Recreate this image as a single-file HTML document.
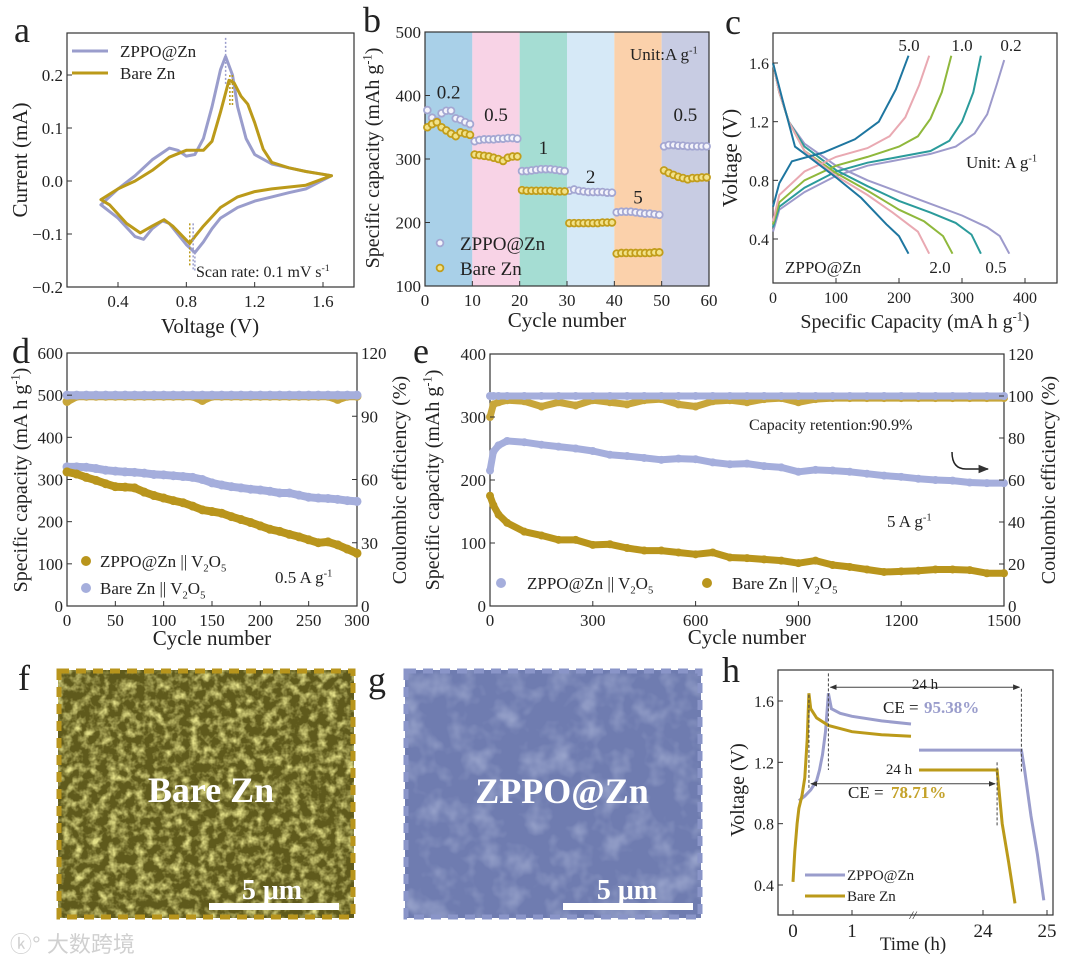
<!DOCTYPE html>
<html><head><meta charset="utf-8">
<style>
html,body{margin:0;padding:0;background:#fff;}
svg{display:block;font-family:"Liberation Serif","Noto Serif CJK SC",serif;}
</style></head>
<body>
<svg id="fig" width="1080" height="964" viewBox="0 0 1080 964" xmlns="http://www.w3.org/2000/svg">
<defs>
<filter id="semF" x="0" y="0" width="100%" height="100%">
<feTurbulence type="fractalNoise" baseFrequency="0.11" numOctaves="3" seed="4"/>
<feColorMatrix type="matrix" values="0 0 0 0 0.78  0 0 0 0 0.75  0 0 0 0 0.25  0 0 0 2.4 -1.0"/>
</filter>
<filter id="semG" x="0" y="0" width="100%" height="100%">
<feTurbulence type="fractalNoise" baseFrequency="0.04" numOctaves="3" seed="9"/>
<feColorMatrix type="matrix" values="0 0 0 0 0.62  0 0 0 0 0.68  0 0 0 0 0.86  0 0 0 1.0 -0.45"/>
</filter>
<marker id="arr" viewBox="0 0 10 10" refX="9" refY="5" markerWidth="7" markerHeight="7" orient="auto-start-reverse"><path d="M0,1 L10,5 L0,9 z" fill="#333"/></marker>
</defs>
</svg>
<script>
// ---------- Panel a: CV data ----------
const cvZppoV = [0.3,0.4,0.5,0.6,0.7,0.75,0.8,0.85,0.9,0.95,1.0,1.03,1.07,1.1,1.15,1.2,1.3,1.4,1.5,1.65,1.5,1.4,1.3,1.2,1.1,1.0,0.95,0.9,0.85,0.8,0.75,0.7,0.66,0.6,0.55,0.5,0.4,0.3];
const cvZppoI = [-0.045,-0.015,0.01,0.04,0.062,0.058,0.047,0.05,0.08,0.14,0.21,0.235,0.2,0.14,0.08,0.05,0.032,0.025,0.018,0.01,-0.015,-0.022,-0.03,-0.038,-0.05,-0.07,-0.09,-0.115,-0.135,-0.12,-0.1,-0.08,-0.075,-0.09,-0.11,-0.105,-0.07,-0.045];
const cvBareV = [0.3,0.4,0.5,0.6,0.7,0.8,0.9,0.95,1.0,1.05,1.08,1.12,1.16,1.2,1.25,1.3,1.4,1.5,1.65,1.5,1.3,1.2,1.1,1.0,0.9,0.85,0.82,0.78,0.72,0.67,0.6,0.53,0.45,0.35,0.3];
const cvBareI = [-0.035,-0.015,0.0,0.02,0.045,0.058,0.058,0.075,0.13,0.19,0.185,0.16,0.145,0.11,0.06,0.035,0.025,0.018,0.01,-0.008,-0.015,-0.02,-0.03,-0.05,-0.085,-0.105,-0.118,-0.105,-0.085,-0.073,-0.085,-0.098,-0.08,-0.045,-0.035];
const aXTicks = [0.4,0.8,1.2,1.6];
const aYTicks = [-0.2,-0.1,0.0,0.1,0.2];
// ---------- Panel b: rate ----------
const rateCycles = Array.from({length:60},(_,i)=>i+1);
const rateZppo = [377,365,360,372,376,376,364,362,358,355, 328,330,331,331,331,332,332,333,333,332, 281,281,282,283,284,284,284,283,282,281, 250,252,250,249,248,248,248,248,247,247, 216,217,217,217,216,215,214,214,213,212, 320,322,322,321,321,320,320,320,320,320];
const rateBare = [350,355,358,350,345,340,336,342,340,338, 307,306,305,304,302,300,297,302,304,304, 251,250,250,250,250,250,250,249,249,249, 199,199,199,199,199,199,199,200,200,200, 151,152,152,152,152,152,152,152,153,153, 282,278,275,272,270,268,270,270,271,271];
const rateLabels = ["0.2","0.5","1","2","5","0.5"];
const bXTicks = [0,10,20,30,40,50,60];
const bYTicks = [100,200,300,400,500];
// ---------- Panel c: GCD ----------
const gcdRates = ["0.2","0.5","1.0","2.0","5.0"];
const gcdDisCap = [[0,10,25,50,100,150,200,250,300,340,360,375],[0,10,25,50,100,150,200,250,290,315,330],[0,10,25,50,100,150,200,240,270,285],[0,10,25,50,100,150,190,230,248],[0,15,35,60,100,140,180,200,215]];
const gcdDisV = [[1.6,1.4,1.2,1.05,0.9,0.8,0.72,0.64,0.56,0.48,0.42,0.3],[1.6,1.4,1.2,1.03,0.87,0.76,0.66,0.58,0.51,0.43,0.3],[1.6,1.4,1.2,1.0,0.85,0.73,0.6,0.52,0.42,0.3],[1.6,1.4,1.2,1.0,0.83,0.7,0.58,0.45,0.3],[1.6,1.35,1.03,0.95,0.82,0.68,0.5,0.42,0.3]];
const gcdChCap = [[0,10,50,100,150,200,250,290,320,340,355,367],[0,10,50,100,150,200,250,280,300,318,330],[0,10,50,100,150,200,230,250,268,283],[0,10,50,100,150,185,210,232,248],[0,10,30,80,130,168,195,215]];
const gcdChV = [[0.45,0.6,0.72,0.83,0.9,0.94,0.98,1.03,1.12,1.25,1.45,1.62],[0.48,0.62,0.75,0.86,0.92,0.96,1.0,1.07,1.2,1.4,1.65],[0.5,0.65,0.8,0.9,0.96,1.03,1.1,1.22,1.4,1.65],[0.52,0.7,0.86,0.96,1.02,1.1,1.23,1.45,1.65],[0.62,0.78,0.93,0.99,1.08,1.2,1.42,1.65]];
const cXTicks = [0,100,200,300,400];
const cYTicks = [0.4,0.8,1.2,1.6];
// ---------- Panel d ----------
const dCycles = [0,10,20,30,40,50,60,70,80,90,100,110,120,130,140,150,160,170,180,190,200,210,220,230,240,250,260,270,280,290,300];
const dCapGold = [318,313,305,298,290,283,282,280,270,262,256,250,245,237,228,224,220,212,205,198,190,182,177,170,164,157,150,152,145,135,125];
const dCapBlue = [330,330,329,326,322,320,318,317,315,312,311,309,307,305,300,292,287,283,280,277,275,272,268,268,263,258,256,255,253,250,248];
const dCEGold = [97,99.5,99.5,99.5,99.5,99.5,99.5,99.5,99.5,99.5,99.5,99.5,99.5,99.5,97.5,99.5,99.5,99.5,99.5,99.5,99.5,99.5,99.5,99.5,99.5,99.5,99.5,99.5,98,99.5,99.5];
const dCEBlue = [100,100,100,100,100,100,100,100,100,100,100,100,100,100,100,100,100,100,100,100,100,100,100,100,100,100,100,100,100,100,100];
const dXTicks = [0,50,100,150,200,250,300];
const dYTicks = [0,100,200,300,400,500,600];
const dRTicks = [0,30,60,90,120];
// ---------- Panel e ----------
const eCycles = [0,10,25,50,100,150,200,250,300,350,400,450,500,550,600,650,700,750,800,850,900,950,1000,1050,1100,1150,1200,1250,1300,1350,1400,1450,1500];
const eCapBlue = [215,245,255,262,260,256,253,250,246,240,238,235,232,234,233,228,225,226,222,220,213,216,215,213,210,207,205,202,200,199,196,195,195];
const eCapGold = [175,160,145,132,118,112,105,105,97,98,92,88,88,85,82,85,77,76,74,72,68,72,65,62,58,54,55,56,58,58,57,52,52];
const eCEGold = [90,96,97,98,97.5,95,97,95.5,98,97,96,98,98.5,96,95,97.5,98,97,98.5,99,97,98.5,99,99,99,99,99,99,99,99,99,99,99];
const eCEBlue = [100,100,100,100,100,100,100,100,100,100,100,100,100,100,100,100,100,100,100,100,100,100,100,100,100,100,100,100,100,100,100,100,100];
const eXTicks = [0,300,600,900,1200,1500];
const eYTicks = [0,100,200,300,400];
const eRTicks = [0,20,40,60,80,100,120];
// ---------- Panel h ----------
const hZppoT = [0.1,0.2,0.3,0.4,0.45,0.5,0.55,0.6,0.65,0.8,1.0,1.5,2.0];
const hZppoV = [0.95,0.98,1.02,1.08,1.15,1.25,1.4,1.65,1.55,1.52,1.5,1.47,1.45];
const hZppoT2 = [23.0,24.0,24.6,24.65,24.75,24.85,24.95];
const hZppoV2 = [1.28,1.28,1.28,1.15,0.85,0.6,0.3];
const hBareT = [0.0,0.03,0.07,0.1,0.15,0.2,0.24,0.27,0.3,0.4,0.6,1.0,1.5,2.0];
const hBareV = [0.42,0.62,0.8,0.9,0.98,1.1,1.35,1.65,1.55,1.49,1.44,1.4,1.38,1.37];
const hBareT2 = [23.0,24.0,24.22,24.3,24.4,24.5];
const hBareV2 = [1.15,1.15,1.15,0.8,0.55,0.28];
const hYTicks = [0.4,0.8,1.2,1.6];

// ---------- helpers ----------
const NS="http://www.w3.org/2000/svg";
const svg=document.getElementById('fig');
function mk(tag,attrs,parent){const e=document.createElementNS(NS,tag);for(const k in attrs)e.setAttribute(k,attrs[k]);(parent||svg).appendChild(e);return e;}
function txt(s,x,y,size,anchor,parent,extra){const e=mk('text',Object.assign({x:x,y:y,'font-size':size,'text-anchor':anchor||'start',fill:'#222'},extra||{}),parent);
 // supports ^{..} superscript and _{..} subscript
 const re=/(\^\{[^}]*\}|_\{[^}]*\})/; const parts=s.split(re); let shift=0;
 parts.forEach(p=>{if(!p)return; const ts=document.createElementNS(NS,'tspan');
  if(p.startsWith('^{')){ts.textContent=p.slice(2,-1);ts.setAttribute('font-size',size*0.62);ts.setAttribute('dy',(-size*0.38-shift));shift=-size*0.38;}
  else if(p.startsWith('_{')){ts.textContent=p.slice(2,-1);ts.setAttribute('font-size',size*0.62);ts.setAttribute('dy',(size*0.25-shift));shift=size*0.25;}
  else {ts.textContent=p;if(shift){ts.setAttribute('dy',-shift);shift=0;}}
  e.appendChild(ts);});
 return e;}
function lin(d0,d1,r0,r1){return v=>r0+(v-d0)/(d1-d0)*(r1-r0);}
function pathOf(xs,ys,sx,sy){return xs.map((v,i)=>(i?'L':'M')+sx(v).toFixed(1)+','+sy(ys[i]).toFixed(1)).join(' ');}
function frame(g,b){const r=mk('rect',{x:b.x,y:b.y,width:b.w,height:b.h,fill:'none',stroke:'#333','stroke-width':1.2},g);}
function xTicks(g,b,ticks,sx,fmt,size){ticks.forEach(t=>{const x=sx(t);const l=mk('line',{x1:x,x2:x,y1:b.y+b.h,y2:b.y+b.h-5,stroke:'#333','stroke-width':1},g);const tl=txt(fmt?fmt(t):String(t),x,b.y+b.h+20,size||17,'middle',g);});}
function yTicks(g,b,ticks,sy,fmt,side,size){ticks.forEach(t=>{const y=sy(t);const x0=side==='r'?b.x+b.w:b.x;const l=mk('line',{x1:x0,x2:side==='r'?x0-5:x0+5,y1:y,y2:y,stroke:'#333','stroke-width':1},g);const tl=txt(fmt?fmt(t):String(t),side==='r'?x0+4:x0-4,y+6,size||17,side==='r'?'start':'end',g);});}
function rotTitle(g,s,x,y,size){return txt(s,x,y,size||20,'middle',g,{transform:`rotate(-90 ${x} ${y})`});}
function letter(s,x,y){const e=txt(s,x,y,36,'start');}
const LAV='#9a9dcc', GOLD='#bb9a1a';
const f1=v=>v.toFixed(1);

// ================= Panel a =================
{
const g=mk('g',{});
const b={x:67,y:33,w:287,h:254};
const sx=lin(0.4,1.6,118,323), sy=lin(0.2,-0.2,75,287);
frame(g,b);
const p1=mk('path',{d:pathOf(cvZppoV,cvZppoI,sx,sy)+'Z',fill:'none',stroke:LAV,'stroke-width':3,'stroke-linejoin':'round'},g);

const p2=mk('path',{d:pathOf(cvBareV,cvBareI,sx,sy)+'Z',fill:'none',stroke:GOLD,'stroke-width':3,'stroke-linejoin':'round'},g);

[[1.03,0.27,0.18,LAV],[1.07,0.2,0.14,GOLD],[1.055,0.2,0.14,GOLD],[0.85,-0.135,-0.17,LAV],[0.84,-0.08,-0.17,LAV],[0.82,-0.08,-0.16,GOLD]].forEach(d=>{const l=mk('line',{x1:sx(d[0]),x2:sx(d[0]),y1:sy(d[1]),y2:sy(d[2]),stroke:d[3],'stroke-width':1.5,'stroke-dasharray':'2,2'},g);});
xTicks(g,b,aXTicks,sx,f1,17);yTicks(g,b,aYTicks,sy,v=>v===0?'0.0':(v<0?'\u2212'+f1(-v):f1(v)),'l',17);
const yt=rotTitle(g,'Current (mA)',27,160,21);
const xt=txt('Voltage (V)',210,333,21,'middle',g);
const l1=mk('line',{x1:72,x2:108,y1:51,y2:51,stroke:LAV,'stroke-width':3},g);
const t1=txt('ZPPO@Zn',120,57,17,'start',g);
const l2=mk('line',{x1:72,x2:108,y1:73,y2:73,stroke:GOLD,'stroke-width':3},g);
const t2=txt('Bare Zn',120,79,17,'start',g);
const sr=txt('Scan rate: 0.1 mV s^{-1}',196,277,16,'start',g);
letter('a',14,42);
}
// ================= Panel b =================
{
const g=mk('g',{});
const b={x:425,y:32,w:284,h:254};
const sx=lin(0,60,425,709), sy=lin(100,500,286,32);
const bands=['#a9d0e8','#f8d3e6','#a5ddd3','#d6e9f7','#fbd1ab','#c8cce3'];
bands.forEach((c,i)=>{const r=mk('rect',{x:sx(i*10),y:b.y,width:sx(10)-sx(0),height:b.h,fill:c},g);});
frame(g,b);
const lp=[[5,395],[15,360],[25,308],[35,262],[45,230],[55,360]];
rateLabels.forEach((s,i)=>{const t=txt(s,sx(lp[i][0]),sy(lp[i][1]),19,'middle',g);});
rateCycles.forEach((c,i)=>{const m=mk('circle',{cx:sx(c-0.5),cy:sy(rateZppo[i]),r:3.4,fill:'#f4f4fb',stroke:'#a4a7d2','stroke-width':1.8},g);});
rateCycles.forEach((c,i)=>{const m=mk('circle',{cx:sx(c-0.5),cy:sy(rateBare[i]),r:3.4,fill:'#f2e28a',stroke:'#c29d1a','stroke-width':1.8},g);});
xTicks(g,b,bXTicks,sx,null,17);yTicks(g,b,bYTicks,sy,null,'l',17);
const yt=rotTitle(g,'Specific capacity (mAh g^{-1})',379,158,20);
const xt=txt('Cycle number',567,327,21,'middle',g);
const u=txt('Unit:A g^{-1}',630,60,17,'start',g);
const c1=mk('circle',{cx:440,cy:243,r:3.4,fill:'#f4f4fb',stroke:'#a4a7d2','stroke-width':1.8},g);
const t1=txt('ZPPO@Zn',460,250,19,'start',g);
const c2=mk('circle',{cx:440,cy:268,r:3.4,fill:'#f2e28a',stroke:'#c29d1a','stroke-width':1.8},g);
const t2=txt('Bare Zn',460,275,19,'start',g);
letter('b',363,32);
}
// ================= Panel c =================
{
const g=mk('g',{});
const b={x:773,y:33,w:284,h:250};
const sx=lin(0,400,773,1025), sy=lin(0.4,1.6,239,63);
frame(g,b);
const cols=['#9d9acb','#2b9b9b','#8fb83c','#e9a9b2','#1e76a0'];
gcdRates.forEach((r,i)=>{
 const d=mk('path',{d:pathOf(gcdDisCap[i],gcdDisV[i],sx,sy),fill:'none',stroke:cols[i],'stroke-width':2},g);
 const c=mk('path',{d:pathOf(gcdChCap[i],gcdChV[i],sx,sy),fill:'none',stroke:cols[i],'stroke-width':2},g);
});
[['5.0',909,51],['1.0',962,51],['0.2',1011,51],['2.0',940,273],['0.5',996,273]].forEach(a=>{const t=txt(a[0],a[1],a[2],17,'middle',g);});
const z=txt('ZPPO@Zn',785,273,17,'start',g);
const u=txt('Unit: A g^{-1}',966,168,17,'start',g);
xTicks(g,b,cXTicks,sx,null,16);yTicks(g,b,cYTicks,sy,f1,'l',16);
const yt=rotTitle(g,'Voltage (V)',737,158,21);
const xt=txt('Specific Capacity (mA h g^{-1})',915,328,20,'middle',g);
letter('c',725,34);
}
// ================= Panel d =================
{
const g=mk('g',{});
const b={x:67,y:353,w:290,h:253};
const sx=lin(0,300,67,357), sy=lin(0,600,606,353), syR=lin(0,120,606,353);
frame(g,b);
const series=[[dCEGold,syR,'#c8a63a','ce-gold'],[dCEBlue,syR,'#a5aedc','ce-blue'],[dCapBlue,sy,'#a5aedc','cap-blue'],[dCapGold,sy,'#b9951c','cap-gold']];
series.forEach(s=>{const p=mk('path',{d:pathOf(dCycles,s[0],sx,s[1]),fill:'none',stroke:s[2],'stroke-width':8,'stroke-linecap':'round','stroke-linejoin':'round'},g);
 dCycles.forEach((c,i)=>{const m=mk('circle',{cx:sx(c),cy:s[1](s[0][i]),r:4.5,fill:s[2]},g);});});
xTicks(g,b,dXTicks,sx,null,17);yTicks(g,b,dYTicks,sy,null,'l',17);yTicks(g,b,dRTicks,syR,null,'r',17);
const yt=rotTitle(g,'Specific capacity (mA h g^{-1})',27,480,20);
const yr=rotTitle(g,'Coulombic efficiency (%)',406,480,20);
const xt=txt('Cycle number',212,645,21,'middle',g);
const c1=mk('circle',{cx:86,cy:561,r:5,fill:'#b9951c'},g);
const t1=txt('ZPPO@Zn || V_{2}O_{5}',100,567,17,'start',g);
const c2=mk('circle',{cx:86,cy:588,r:5,fill:'#a5aedc'},g);
const t2=txt('Bare Zn || V_{2}O_{5}',100,594,17,'start',g);
const r=txt('0.5 A g^{-1}',275,583,17,'start',g);
letter('d',12,363);
}
// ================= Panel e =================
{
const g=mk('g',{});
const b={x:490,y:354,w:514,h:252};
const sx=lin(0,1500,490,1004), sy=lin(0,400,606,354), syR=lin(0,120,606,354);
frame(g,b);
const series=[[eCEGold,syR,'#c8a63a','ce-gold'],[eCEBlue,syR,'#a5aedc','ce-blue'],[eCapBlue,sy,'#a5aedc','cap-blue'],[eCapGold,sy,'#b9951c','cap-gold']];
series.forEach(s=>{const p=mk('path',{d:pathOf(eCycles,s[0],sx,s[1]),fill:'none',stroke:s[2],'stroke-width':7,'stroke-linecap':'round','stroke-linejoin':'round'},g);
 eCycles.forEach((c,i)=>{const m=mk('circle',{cx:sx(c),cy:s[1](s[0][i]),r:4,fill:s[2]},g);});});
xTicks(g,b,eXTicks,sx,null,17);yTicks(g,b,eYTicks,sy,null,'l',17);yTicks(g,b,eRTicks,syR,null,'r',17);
const yt=rotTitle(g,'Specific capacity (mAh g^{-1})',439,480,20);
const yr=rotTitle(g,'Coulombic efficiency (%)',1055,480,20);
const xt=txt('Cycle number',747,644,21,'middle',g);
const cr=txt('Capacity retention:90.9%',749,430,16,'start',g);
const rn=txt('5 A g^{-1}',887,527,17,'start',g);
const ar=mk('path',{d:'M952,452 Q952,469 966,469 L988,469',fill:'none',stroke:'#222','stroke-width':1.5,'marker-end':'url(#arr)'},g);
const c1=mk('circle',{cx:501,cy:583,r:5,fill:'#a5aedc'},g);
const t1=txt('ZPPO@Zn || V_{2}O_{5}',527,589,17,'start',g);
const c2=mk('circle',{cx:707,cy:583,r:5,fill:'#b9951c'},g);
const t2=txt('Bare Zn || V_{2}O_{5}',732,589,17,'start',g);
letter('e',413,363);
}
// ================= Panels f, g (SEM) =================
{
const gf=mk('g',{});
const bg=mk('rect',{x:58,y:670,width:296,height:248,fill:'#5f5a1c'},gf);
const tx=mk('rect',{x:58,y:670,width:296,height:248,filter:'url(#semF)'},gf);
const bd=mk('rect',{x:59,y:671,width:294,height:246,fill:'none',stroke:'#b8951c','stroke-width':5,'stroke-dasharray':'10,7'},gf);
const lb=txt('Bare Zn',211,802,36,'middle',gf,{fill:'#fff','font-weight':'bold'});
const sc=txt('5 μm',272,899,28,'middle',gf,{fill:'#fff','font-weight':'bold'});
const sb=mk('rect',{x:209,y:903,width:130,height:7,fill:'#fff'},gf);
letter('f',18,690);
const gg=mk('g',{});
const bg2=mk('rect',{x:405,y:670,width:296,height:248,fill:'#6f7cb0'},gg);
const tx2=mk('rect',{x:405,y:670,width:296,height:248,filter:'url(#semG)'},gg);
const bd2=mk('rect',{x:406,y:671,width:294,height:246,fill:'none',stroke:'#8a95c8','stroke-width':5,'stroke-dasharray':'10,7'},gg);
const lb2=txt('ZPPO@Zn',562,803,36,'middle',gg,{fill:'#fff','font-weight':'bold'});
const sc2=txt('5 μm',627,899,28,'middle',gg,{fill:'#fff','font-weight':'bold'});
const sb2=mk('rect',{x:563,y:903,width:130,height:7,fill:'#fff'},gg);
letter('g',368,692);
const wm=txt('\u24DA\u00B0 大数跨境',10,952,22,'start',null,{fill:'#d0d0d0','font-family':'"Liberation Sans","Noto Sans CJK SC",sans-serif'});
}
// ================= Panel h =================
{
const g=mk('g',{});
const b={x:778,y:670,w:275,h:245};
const sx=t=>t<=12?793+59*t:983+64*(t-24);
const sy=lin(0.4,1.6,885,701);
frame(g,b);
const pz=mk('path',{d:pathOf(hZppoT,hZppoV,sx,sy),fill:'none',stroke:LAV,'stroke-width':3},g);
const pz2=mk('path',{d:pathOf(hZppoT2,hZppoV2,sx,sy),fill:'none',stroke:LAV,'stroke-width':3},g);
const pb=mk('path',{d:pathOf(hBareT,hBareV,sx,sy),fill:'none',stroke:GOLD,'stroke-width':3},g);
const pb2=mk('path',{d:pathOf(hBareT2,hBareV2,sx,sy),fill:'none',stroke:GOLD,'stroke-width':3},g);
[[0.6,1.78,1.15],[24.6,1.68,1.14],[0.27,1.64,1.03],[24.22,1.2,0.78]].forEach(d=>{const l=mk('line',{x1:sx(d[0]),x2:sx(d[0]),y1:sy(d[1]),y2:sy(d[2]),stroke:'#444','stroke-width':1,'stroke-dasharray':'3,2'},g);});
const a1=mk('line',{x1:sx(0.6)+2,x2:sx(24.6)-2,y1:sy(1.69),y2:sy(1.69),stroke:'#444','stroke-width':1,'marker-start':'url(#arr)','marker-end':'url(#arr)'},g);
const a2=mk('line',{x1:sx(0.27)+2,x2:sx(24.22)-2,y1:sy(1.06),y2:sy(1.06),stroke:'#444','stroke-width':1,'marker-start':'url(#arr)','marker-end':'url(#arr)'},g);
const h1=txt('24 h',925,689,15,'middle',g);
const h2=txt('24 h',899,774,15,'middle',g);
const ce1=txt('CE = ',883,713,17,'start',g);
const cv1=txt('95.38%',924,713,17,'start',g,{fill:'#9a9dcc','font-weight':'bold'});
const ce2=txt('CE = ',848,798,17,'start',g);
const cv2=txt('78.71%',891,798,17,'start',g,{fill:'#c4a22a','font-weight':'bold'});
yTicks(g,b,hYTicks,sy,f1,'l',16);
[[0,'0'],[1,'1'],[24,'24'],[25,'25']].forEach(t=>{const x=sx(t[0]);const l=mk('line',{x1:x,x2:x,y1:915,y2:910,stroke:'#333'},g);const tl=txt(t[1],x,937,19,'middle',g);});
const br=txt('//',913,919,12,'middle',g,{'font-style':'italic'});
const yt=rotTitle(g,'Voltage (V)',744,790,20);
const xt=txt('Time (h)',913,950,19,'middle',g);
const l1=mk('line',{x1:805,x2:845,y1:875,y2:875,stroke:LAV,'stroke-width':3},g);
const t1=txt('ZPPO@Zn',847,880,15,'start',g);
const l2=mk('line',{x1:805,x2:845,y1:896,y2:896,stroke:GOLD,'stroke-width':3},g);
const t2=txt('Bare Zn',847,901,15,'start',g);
letter('h',722,682);
}
</script>
</body></html>
